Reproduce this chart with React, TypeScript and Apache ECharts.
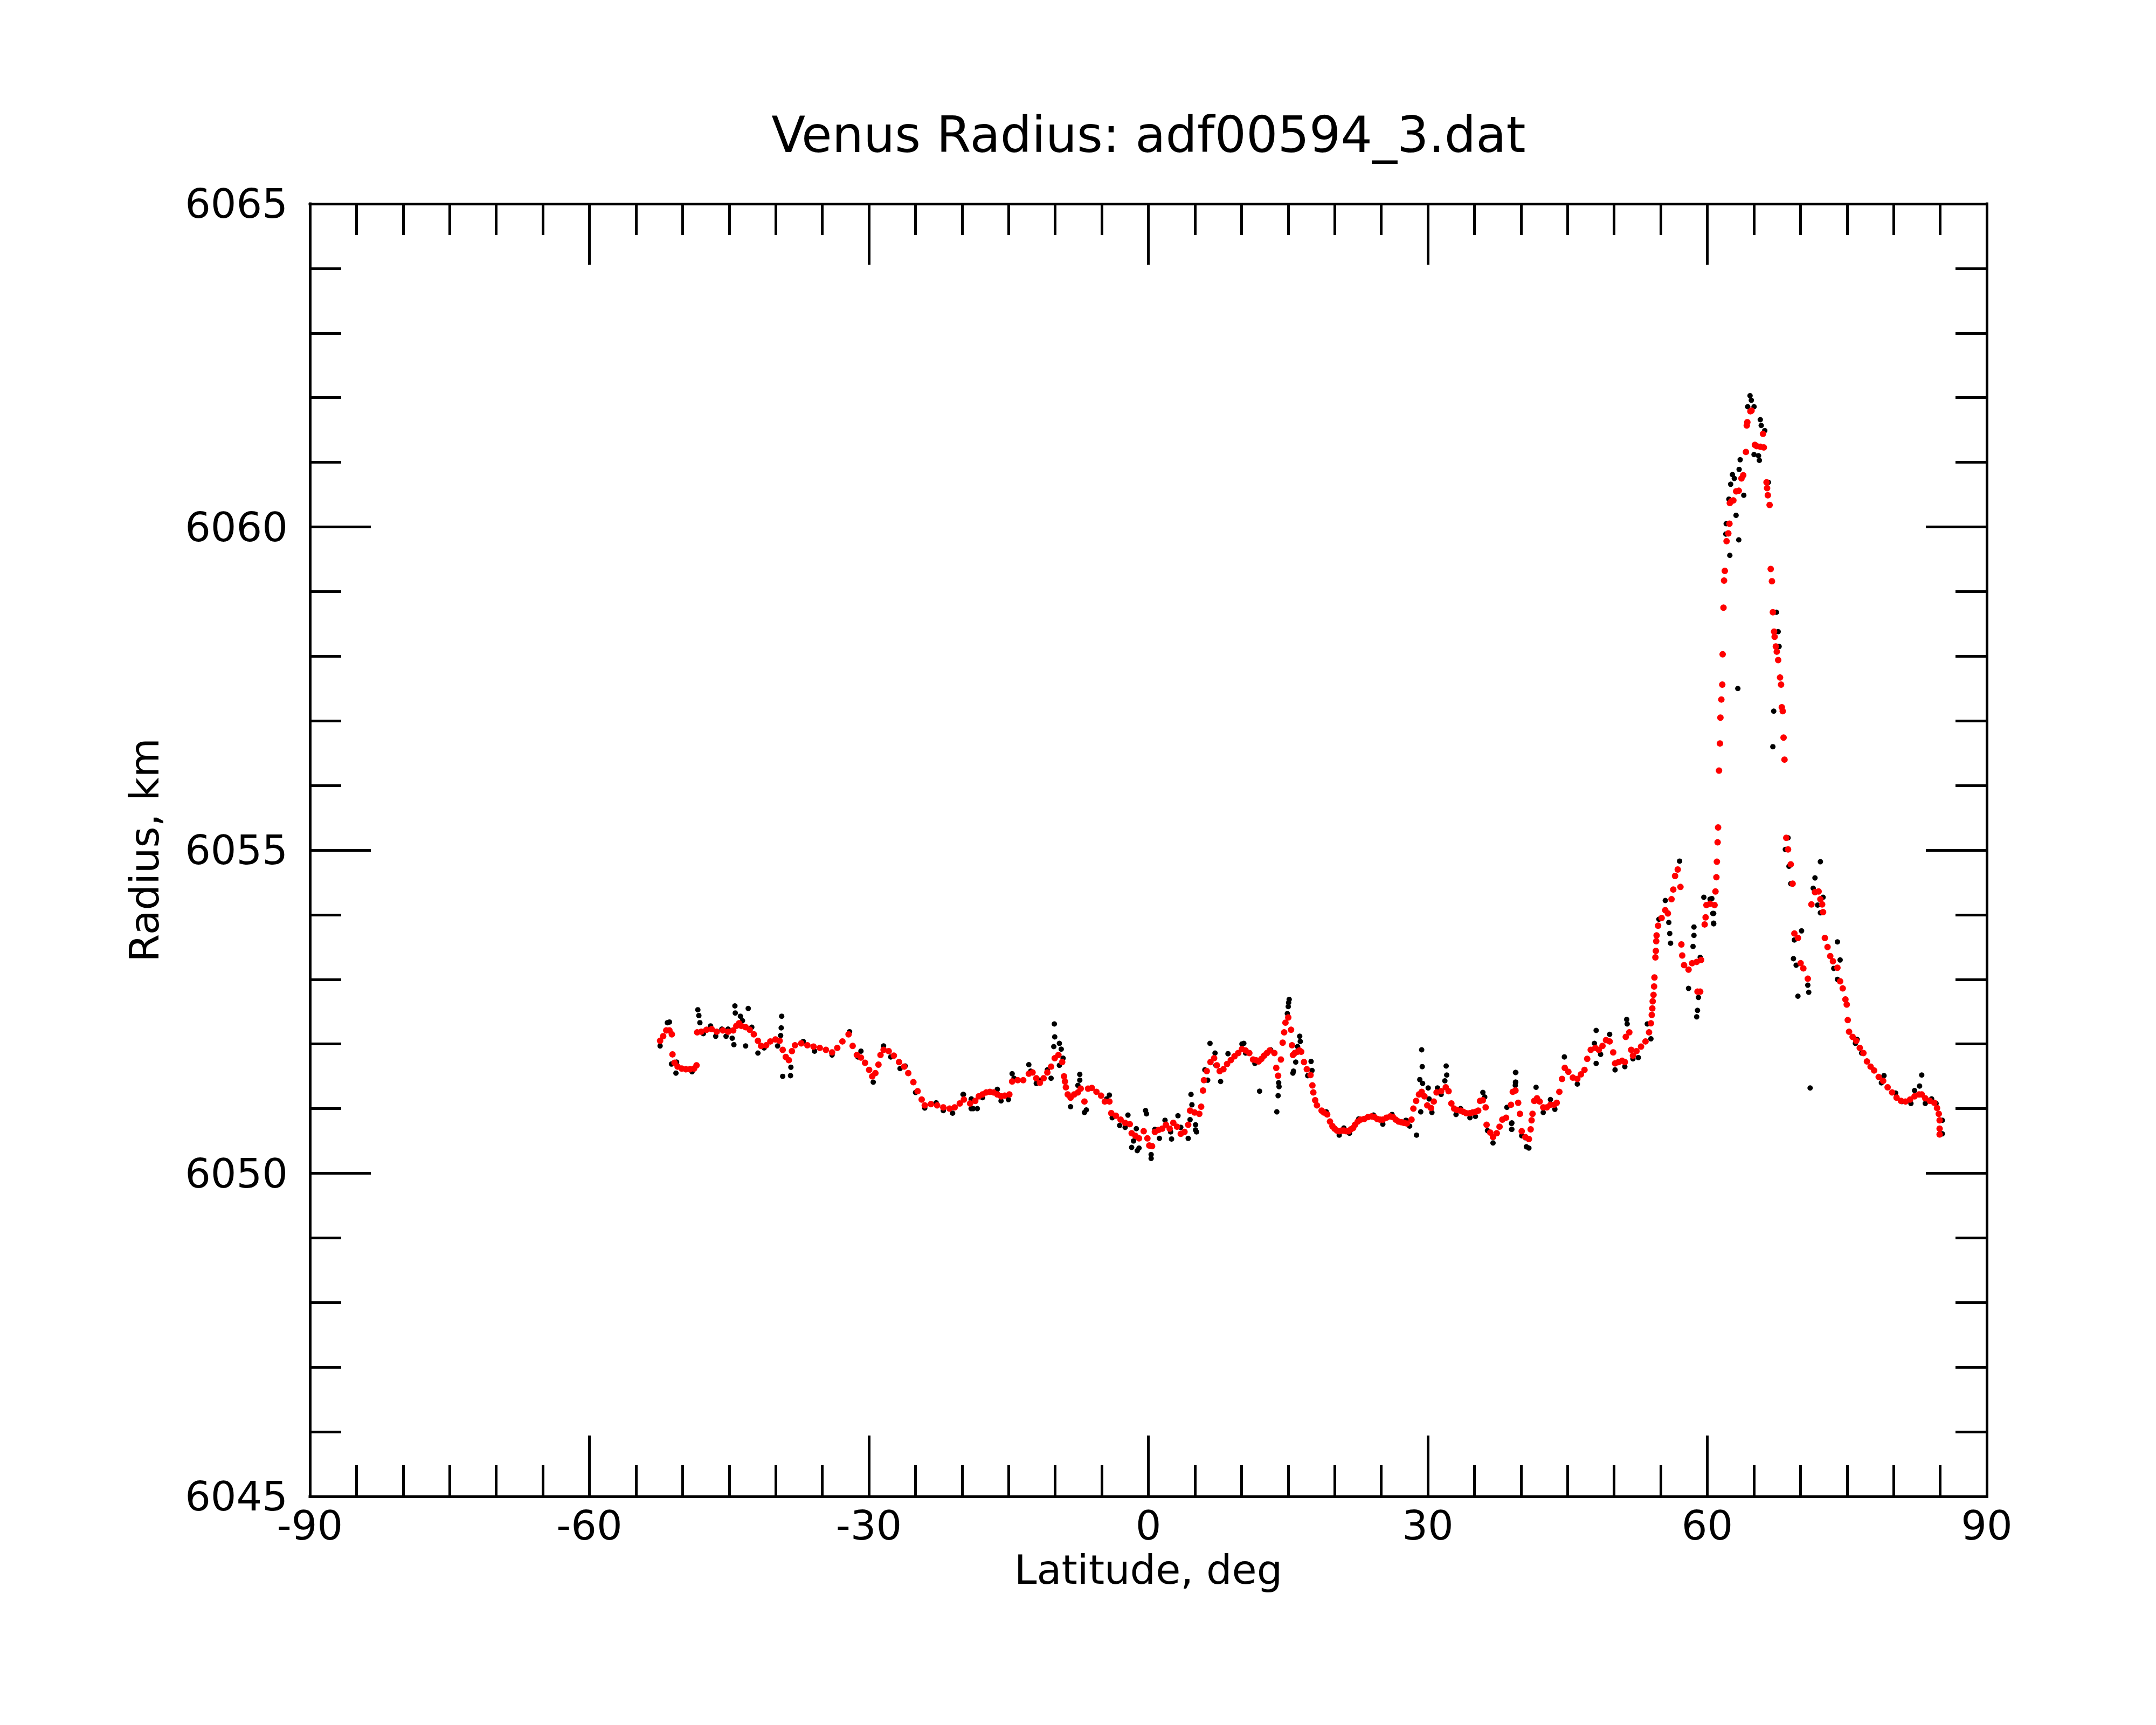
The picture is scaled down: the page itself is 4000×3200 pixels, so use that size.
import React, { useEffect, useRef } from "react";
import * as echarts from "echarts";

const TITLE = "Venus Radius: adf00594_3.dat";
const X_NAME = "Latitude, deg";
const Y_NAME = "Radius, km";
const FONT = "DejaVu Sans";

// Smoothed profile (red), [latitude, radius]
const redSouth = [
  [-52.41, 6052.05], [-52.08, 6052.12], [-51.75, 6052.21], [-51.41, 6052.21], [-51.15, 6052.15],
  [-51.08, 6051.84], [-50.86, 6051.71], [-50.53, 6051.65], [-50.09, 6051.62], [-49.64, 6051.61],
  [-49.2, 6051.61], [-48.76, 6051.62], [-48.5, 6051.67], [-48.43, 6052.18], [-47.99, 6052.19],
  [-47.43, 6052.22], [-46.88, 6052.23], [-46.33, 6052.19], [-45.67, 6052.21], [-45.11, 6052.19],
  [-44.56, 6052.21], [-44.23, 6052.28], [-43.94, 6052.32], [-43.68, 6052.28], [-43.23, 6052.26],
  [-42.79, 6052.22], [-42.35, 6052.15], [-41.91, 6052.05], [-41.57, 6051.97], [-41.02, 6051.98],
  [-40.58, 6052.04], [-40.03, 6052.07], [-39.58, 6052.05], [-39.25, 6051.91], [-38.92, 6051.8],
  [-38.59, 6051.75], [-38.26, 6051.89], [-37.93, 6051.98], [-37.26, 6052.01], [-36.6, 6051.98],
  [-35.94, 6051.96], [-35.27, 6051.94], [-34.61, 6051.91], [-33.95, 6051.87], [-33.39, 6051.94],
  [-32.84, 6052.04], [-32.18, 6052.15], [-31.74, 6051.97], [-31.29, 6051.83], [-30.85, 6051.79],
  [-30.41, 6051.71], [-29.97, 6051.6], [-29.64, 6051.5], [-29.3, 6051.55], [-28.97, 6051.68],
  [-28.75, 6051.83], [-28.42, 6051.91], [-27.87, 6051.89], [-27.32, 6051.82], [-26.76, 6051.72],
  [-26.21, 6051.65], [-25.77, 6051.55], [-25.22, 6051.41], [-24.77, 6051.27], [-24.33, 6051.14],
  [-24.0, 6051.05], [-23.34, 6051.07], [-22.67, 6051.05], [-22.01, 6051.02], [-21.34, 6051.0],
  [-20.79, 6051.02], [-20.24, 6051.08], [-19.8, 6051.14], [-19.13, 6051.08], [-18.58, 6051.12],
];

const redEquator = [
  [-18.2, 6051.19], [-17.8, 6051.22], [-17.41, 6051.25], [-17.01, 6051.26], [-16.61, 6051.25],
  [-16.21, 6051.22], [-15.81, 6051.19], [-15.42, 6051.2], [-14.92, 6051.22], [-14.62, 6051.42],
  [-14.02, 6051.44], [-13.43, 6051.44], [-12.83, 6051.54], [-12.43, 6051.56], [-12.03, 6051.47],
  [-11.64, 6051.4], [-11.24, 6051.47], [-10.84, 6051.56], [-10.44, 6051.65], [-10.05, 6051.78],
  [-9.65, 6051.83], [-9.25, 6051.72], [-9.05, 6051.5], [-8.95, 6051.42], [-8.85, 6051.33],
  [-8.65, 6051.22], [-8.35, 6051.17], [-7.96, 6051.22], [-7.56, 6051.25], [-7.26, 6051.31],
  [-6.86, 6051.11], [-6.47, 6051.31], [-6.07, 6051.32], [-5.57, 6051.26], [-5.07, 6051.2],
  [-4.67, 6051.11], [-4.18, 6051.11], [-3.98, 6050.93], [-3.48, 6050.89], [-2.98, 6050.83],
  [-2.49, 6050.78], [-1.99, 6050.76], [-1.79, 6050.62], [-1.39, 6050.58], [-1.0, 6050.54],
  [-0.5, 6050.65], [-0.1, 6050.54], [0.1, 6050.43], [0.4, 6050.42], [0.7, 6050.64],
  [1.09, 6050.67], [1.49, 6050.69], [1.89, 6050.75], [2.29, 6050.69], [2.68, 6050.78],
  [3.08, 6050.72], [3.48, 6050.61], [3.88, 6050.64], [4.28, 6050.75], [4.48, 6050.97],
  [4.97, 6050.94], [5.47, 6050.92], [5.67, 6051.03], [5.87, 6051.28], [5.97, 6051.44],
  [6.27, 6051.58], [6.67, 6051.72], [7.06, 6051.78], [7.36, 6051.67], [7.66, 6051.58],
  [8.06, 6051.61], [8.45, 6051.69], [8.85, 6051.75], [9.25, 6051.81], [9.65, 6051.86],
  [10.05, 6051.92], [10.44, 6051.9],
];

const redNorth = [
  [10.84, 6051.86], [11.24, 6051.76], [11.54, 6051.75], [11.84, 6051.73], [12.14, 6051.77],
  [12.43, 6051.82], [12.73, 6051.86], [13.03, 6051.9], [13.53, 6051.86], [13.73, 6051.63],
  [13.93, 6051.51], [14.23, 6051.76], [14.42, 6052.02], [14.58, 6052.18], [14.72, 6052.33],
  [15.02, 6052.41], [15.32, 6052.22], [15.42, 6051.98], [15.52, 6051.83], [15.72, 6051.86],
  [16.02, 6051.88], [16.21, 6051.9], [16.41, 6051.88], [16.71, 6051.72], [17.01, 6051.61],
  [17.41, 6051.52], [17.61, 6051.36], [17.71, 6051.25], [17.91, 6051.13], [18.1, 6051.05],
  [18.6, 6050.97], [18.84, 6050.94], [19.2, 6050.91], [19.5, 6050.8], [19.76, 6050.73],
  [19.99, 6050.69], [20.25, 6050.66], [20.49, 6050.65], [20.75, 6050.66], [20.99, 6050.66],
  [21.25, 6050.65], [21.49, 6050.65], [21.74, 6050.68], [21.98, 6050.7], [22.18, 6050.75],
  [22.48, 6050.8], [22.78, 6050.83], [23.18, 6050.84], [23.58, 6050.87], [23.97, 6050.88],
  [24.27, 6050.87], [24.57, 6050.84], [24.87, 6050.83], [25.17, 6050.83], [25.56, 6050.86],
  [25.96, 6050.88], [26.26, 6050.87], [26.56, 6050.83], [26.86, 6050.8], [27.16, 6050.79],
  [27.45, 6050.78], [27.75, 6050.77], [28.25, 6050.83], [28.45, 6051.0], [28.75, 6051.12],
  [29.05, 6051.22], [29.34, 6051.26], [29.64, 6051.19], [29.94, 6051.05], [30.34, 6051.01],
  [30.64, 6051.11], [30.94, 6051.25], [31.43, 6051.27], [31.93, 6051.33], [32.23, 6051.27],
  [32.53, 6051.08], [32.83, 6051.0], [33.12, 6050.98], [33.52, 6050.97], [33.82, 6050.95],
  [34.12, 6050.93], [34.52, 6050.93], [34.81, 6050.94], [35.11, 6050.95], [35.41, 6050.97],
  [35.61, 6051.12], [35.91, 6051.13], [36.21, 6051.02], [36.31, 6050.75], [36.7, 6050.63],
  [37.0, 6050.56], [37.4, 6050.62], [37.7, 6050.72], [38.0, 6050.83], [38.4, 6050.86],
];

const redRise = [
  [38.93, 6051.06], [39.12, 6051.26], [39.41, 6051.28], [39.7, 6051.09], [39.89, 6050.92],
  [40.08, 6050.65], [40.47, 6050.56], [40.85, 6050.53], [41.04, 6050.68], [41.14, 6050.82],
  [41.24, 6050.92], [41.43, 6051.12], [41.72, 6051.16], [42.01, 6051.11], [42.39, 6051.02],
  [42.78, 6051.02], [43.16, 6051.06], [43.55, 6051.06], [43.84, 6051.09], [44.12, 6051.26],
  [44.41, 6051.46], [44.7, 6051.63], [45.09, 6051.57], [45.57, 6051.48], [46.05, 6051.46],
  [46.44, 6051.53], [46.82, 6051.6], [47.11, 6051.77], [47.49, 6051.91], [47.98, 6051.94],
  [48.36, 6051.91], [48.75, 6051.97], [49.13, 6052.06], [49.52, 6052.04], [49.9, 6051.87],
  [50.1, 6051.7], [50.48, 6051.72], [50.86, 6051.74], [51.15, 6051.72], [51.25, 6052.11],
  [51.63, 6052.18], [51.83, 6051.91], [52.02, 6051.82], [52.4, 6051.89], [52.89, 6051.96],
  [53.37, 6052.04], [53.75, 6052.18], [53.95, 6052.32], [54.04, 6052.45], [54.1, 6052.55],
  [54.14, 6052.66], [54.23, 6052.76], [54.29, 6052.89], [54.33, 6053.03], [54.43, 6053.34],
  [54.48, 6053.44], [54.52, 6053.59], [54.56, 6053.68], [54.72, 6053.83], [55.1, 6053.95],
  [55.49, 6054.07], [55.77, 6054.02], [56.16, 6054.24], [56.35, 6054.39], [56.54, 6054.6],
  [56.83, 6054.7], [57.12, 6054.43], [57.22, 6053.54], [57.31, 6053.37], [57.51, 6053.22],
  [57.99, 6053.15], [58.37, 6053.25], [58.86, 6053.27], [59.34, 6053.3], [58.95, 6052.81],
  [59.24, 6052.81], [59.72, 6053.85], [59.82, 6053.96], [59.91, 6054.15], [60.3, 6054.17],
  [60.78, 6054.15], [60.88, 6054.36], [60.98, 6054.58], [61.03, 6054.82], [61.11, 6055.12],
];

const redPeak = [
  [61.16, 6055.35], [61.26, 6056.23], [61.36, 6056.65], [61.41, 6057.05], [61.51, 6057.33],
  [61.61, 6057.56], [61.65, 6058.03], [61.74, 6058.75], [61.8, 6059.17], [61.88, 6059.32],
  [62.07, 6059.78], [62.26, 6059.9], [62.38, 6060.05], [62.42, 6060.37], [62.6, 6060.4],
  [62.8, 6060.41], [63.1, 6060.55], [63.38, 6060.56], [63.67, 6060.75], [63.86, 6060.8],
  [64.15, 6061.16], [64.24, 6061.57], [64.3, 6061.62], [64.63, 6061.79], [64.75, 6061.8],
  [65.11, 6061.27], [65.3, 6061.25], [65.7, 6061.24], [65.98, 6061.44], [66.07, 6061.23],
  [66.36, 6060.69], [66.42, 6060.6], [66.5, 6060.49], [66.69, 6060.34], [66.81, 6059.35],
  [66.94, 6059.16], [67.04, 6058.68], [67.17, 6058.38], [67.23, 6058.3], [67.36, 6058.15],
  [67.46, 6058.07], [67.61, 6057.94], [67.81, 6057.67], [67.92, 6057.56], [68.0, 6057.21],
  [68.1, 6057.15], [68.19, 6056.74], [68.29, 6056.4], [68.48, 6055.19], [68.67, 6055.01],
  [68.96, 6054.78], [69.16, 6054.48],
];

const redTail = [
  [69.35, 6053.71], [69.73, 6053.64], [70.02, 6053.25], [70.31, 6053.17], [70.79, 6053.01],
  [71.18, 6054.16], [71.56, 6054.35], [71.95, 6054.36], [72.14, 6054.24], [72.33, 6054.16],
  [72.43, 6054.04], [72.62, 6053.64], [72.91, 6053.5], [73.2, 6053.36], [73.49, 6053.28],
  [73.97, 6053.18], [74.26, 6052.97], [74.54, 6052.86], [74.83, 6052.69], [74.97, 6052.61],
  [75.08, 6052.37], [75.22, 6052.19], [75.6, 6052.11], [75.99, 6052.05], [76.37, 6051.94],
  [76.76, 6051.86], [77.14, 6051.73], [77.53, 6051.65], [77.91, 6051.59], [78.4, 6051.49],
  [78.88, 6051.43], [79.36, 6051.33], [79.84, 6051.25], [80.32, 6051.17], [80.8, 6051.12],
  [81.28, 6051.11], [81.77, 6051.14], [82.25, 6051.19], [82.73, 6051.22], [83.02, 6051.22],
  [83.4, 6051.16], [83.88, 6051.12], [84.37, 6051.09], [84.66, 6051.01], [84.85, 6050.92],
  [84.94, 6050.82], [84.94, 6050.69], [84.94, 6050.6],
];

// Raw measurements (black), [latitude, radius]
const blackSouth = [
  [-52.41, 6051.97], [-51.63, 6052.33], [-51.41, 6052.34], [-51.19, 6051.69], [-50.64, 6051.72],
  [-50.71, 6051.55], [-48.98, 6051.57], [-48.36, 6052.53], [-48.25, 6052.44], [-48.14, 6052.33],
  [-47.77, 6052.16], [-46.99, 6052.28], [-46.44, 6052.12], [-45.78, 6052.23], [-45.33, 6052.12],
  [-45.11, 6052.23], [-44.67, 6052.09], [-44.49, 6051.99], [-44.38, 6052.59], [-44.34, 6052.48],
  [-43.79, 6052.43], [-43.57, 6052.36], [-42.95, 6052.55], [-43.23, 6051.97], [-42.57, 6052.26],
  [-41.91, 6051.86], [-41.24, 6051.94], [-39.8, 6051.97], [-39.47, 6052.13], [-39.41, 6052.25],
  [-39.36, 6052.43], [-39.25, 6051.5], [-38.41, 6051.51], [-38.37, 6051.64], [-37.04, 6052.04],
  [-35.83, 6051.89], [-33.95, 6051.83], [-32.07, 6052.19], [-30.85, 6051.89], [-31.18, 6051.8],
  [-29.53, 6051.41], [-28.42, 6051.97], [-27.65, 6051.8], [-26.65, 6051.62], [-26.1, 6051.66],
  [-24.99, 6051.25], [-24.0, 6051.01], [-22.78, 6051.09], [-22.01, 6050.97], [-21.01, 6050.93],
  [-19.84, 6051.22], [-19.02, 6051.14], [-19.02, 6051.0], [-18.36, 6051.0],
];

const blackEquator = [
  [-19.89, 6051.22], [-19.0, 6051.15], [-18.8, 6051.0], [-17.8, 6051.17], [-16.21, 6051.3],
  [-15.81, 6051.12], [-15.02, 6051.14], [-14.62, 6051.54], [-14.42, 6051.47], [-12.83, 6051.68],
  [-12.63, 6051.58], [-12.03, 6051.39], [-11.64, 6051.44], [-10.84, 6051.6], [-10.44, 6051.47],
  [-10.15, 6051.96], [-10.05, 6052.11], [-10.09, 6052.31], [-9.55, 6052.01], [-9.35, 6051.92],
  [-9.55, 6051.67], [-9.15, 6051.78], [-8.35, 6051.03], [-7.36, 6051.53], [-7.36, 6051.44],
  [-7.56, 6051.36], [-6.86, 6050.94], [-6.66, 6050.98], [-4.48, 6051.15], [-4.18, 6051.21],
  [-3.88, 6050.86], [-3.08, 6050.74], [-2.49, 6050.71], [-2.19, 6050.9], [-1.59, 6050.5],
  [-1.79, 6050.4], [-1.29, 6050.69], [-1.19, 6050.35], [-1.0, 6050.39], [-0.3, 6050.97],
  [-0.2, 6050.92], [0.3, 6050.29], [0.3, 6050.23], [0.7, 6050.68], [1.19, 6050.54],
  [1.79, 6050.82], [2.39, 6050.64], [2.49, 6050.53], [3.18, 6050.89], [3.48, 6050.71],
  [4.28, 6050.54], [4.48, 6050.83], [4.58, 6051.22], [4.68, 6051.06], [5.07, 6050.75],
  [5.07, 6050.67], [5.17, 6050.64], [6.07, 6051.6], [6.37, 6051.44], [6.62, 6052.01],
  [7.16, 6051.86], [7.26, 6051.67], [7.66, 6051.58], [7.76, 6051.42], [8.55, 6051.85],
  [10.05, 6052.0], [10.44, 6051.86],
];

const blackNorth = [
  [10.25, 6052.01], [11.44, 6051.7], [11.94, 6051.27], [13.13, 6051.91], [13.79, 6050.95],
  [13.93, 6051.2], [14.03, 6051.34], [13.99, 6051.4], [14.92, 6052.47], [15.02, 6052.58],
  [15.12, 6052.69], [15.06, 6052.64], [15.52, 6051.55], [15.58, 6051.58], [15.82, 6051.72],
  [16.25, 6052.12], [16.31, 6052.04], [16.02, 6051.96], [17.47, 6051.73], [17.57, 6051.59],
  [17.11, 6051.51], [19.1, 6050.95], [20.49, 6050.59], [20.99, 6050.7], [21.59, 6050.62],
  [22.58, 6050.84], [24.17, 6050.9], [25.17, 6050.76], [26.16, 6050.91], [27.65, 6050.82],
  [28.05, 6050.73], [28.79, 6050.59], [29.24, 6050.95], [29.14, 6051.45], [29.4, 6051.65],
  [29.34, 6051.91], [29.44, 6051.39], [30.04, 6051.32], [30.14, 6051.15], [30.44, 6050.94],
  [31.04, 6051.32], [31.43, 6051.22], [31.83, 6051.43], [32.03, 6051.52], [31.97, 6051.66],
  [33.03, 6050.91], [33.52, 6051.0], [34.52, 6050.86], [35.11, 6050.88], [35.91, 6051.25],
  [36.11, 6051.18], [36.41, 6050.66], [37.0, 6050.47], [38.49, 6051.02], [38.99, 6050.77],
  [38.99, 6050.68], [39.39, 6051.36], [39.43, 6051.41], [39.45, 6051.56], [40.58, 6050.41],
  [40.48, 6050.55],
];

const blackRise = [
  [39.41, 6051.56], [39.41, 6051.41], [39.02, 6050.78], [39.02, 6050.68], [40.08, 6050.58],
  [40.85, 6050.39], [41.62, 6051.33], [43.16, 6051.14], [42.39, 6050.94], [43.64, 6050.99],
  [44.66, 6051.8], [46.05, 6051.38], [48.07, 6051.7], [48.07, 6052.21], [47.88, 6052.01],
  [49.52, 6052.15], [48.55, 6051.84], [50.1, 6051.6], [51.15, 6051.65], [51.35, 6052.38],
  [51.4, 6052.31], [52.02, 6051.77], [52.6, 6051.79], [53.56, 6052.31], [53.95, 6052.08],
  [54.81, 6053.93], [55.49, 6054.22], [55.87, 6053.88], [55.97, 6053.71], [56.06, 6053.56],
  [57.03, 6054.83], [58.57, 6053.81], [58.57, 6053.68], [58.47, 6053.51], [57.99, 6052.86],
  [59.05, 6052.72], [58.95, 6052.52], [58.86, 6052.42], [59.63, 6054.27], [60.3, 6054.24],
  [60.69, 6054.02], [60.69, 6053.86], [59.24, 6053.34], [60.49, 6054.25], [60.59, 6054.02],
  [60.68, 6053.87],
];

const blackPeak = [
  [64.59, 6062.03], [64.73, 6061.96], [64.34, 6061.86], [65.02, 6061.86], [65.69, 6061.66],
  [65.79, 6061.57], [66.17, 6061.49], [65.02, 6061.12], [65.59, 6061.03], [65.5, 6061.1],
  [63.53, 6061.04], [63.42, 6060.89], [62.7, 6060.81], [62.9, 6060.75], [62.51, 6060.66],
  [63.92, 6060.49], [62.32, 6060.43], [63.09, 6060.18], [62.03, 6060.05], [61.99, 6059.89],
  [63.38, 6059.8], [62.42, 6059.56], [63.28, 6057.5], [67.13, 6057.15], [67.04, 6056.6],
  [66.56, 6060.69], [67.42, 6058.68], [67.61, 6058.38], [67.71, 6058.15], [68.67, 6055.19],
  [68.38, 6055.01], [68.77, 6054.75], [68.96, 6054.48],
];

const blackTail = [
  [72.14, 6054.82], [71.56, 6054.57], [71.37, 6054.41], [72.43, 6054.27], [71.85, 6054.15],
  [72.14, 6054.03], [70.12, 6053.75], [69.35, 6053.61], [73.97, 6053.58], [69.25, 6053.32],
  [69.54, 6053.22], [70.79, 6052.91], [70.89, 6052.8], [69.73, 6052.74], [74.26, 6053.3],
  [73.58, 6053.17], [73.97, 6053.0], [76.09, 6052.07], [75.9, 6052.01], [76.57, 6051.86],
  [71.04, 6051.32], [78.97, 6051.51], [78.69, 6051.4], [80.22, 6051.24], [80.9, 6051.11],
  [81.86, 6051.08], [83.02, 6051.52], [82.79, 6051.35], [82.25, 6051.28], [83.4, 6051.08],
  [84.08, 6051.15], [84.56, 6051.08], [85.23, 6050.82], [85.23, 6050.61],
];

const redData = [...redSouth, ...redEquator, ...redNorth, ...redRise, ...redPeak, ...redTail];
const blackData = [...blackSouth, ...blackEquator, ...blackNorth, ...blackRise, ...blackPeak, ...blackTail];

const X_MIN = -90, X_MAX = 90, X_STEP = 30;
const Y_MIN = 6045, Y_MAX = 6065, Y_STEP = 5;

const plainNumber = (v: number) => String(v);

function axisCommon(showLabels: boolean) {
  return {
    axisLine: { show: true, onZero: false, lineStyle: { color: "#000", width: 5, cap: "square" } },
    axisTick: { show: true, inside: true, length: 113, lineStyle: { color: "#000", width: 5 } },
    splitLine: { show: false },
    minorSplitLine: { show: false },
    axisLabel: {
      show: showLabels,
      fontSize: 75,
      color: "#000",
      fontFamily: FONT,
      formatter: plainNumber,
    },
  };
}

export default function App() {
  const ref = useRef<HTMLDivElement>(null);
  useEffect(() => {
    document.body.style.margin = "0";
    const chart = echarts.init(ref.current!, null, { renderer: "svg" });
    const textStyle = { fontSize: 75, color: "#000", fontFamily: FONT };
    const xBase = { type: "value", min: X_MIN, max: X_MAX, interval: X_STEP };
    const yBase = { type: "value", min: Y_MIN, max: Y_MAX, interval: Y_STEP };
    chart.setOption({
      animation: false,
      backgroundColor: "#fff",
      textStyle: { fontFamily: FONT },
      title: {
        text: TITLE,
        left: 2131,
        top: 204,
        padding: 0,
        textAlign: "center",
        textVerticalAlign: "top",
        textStyle: { fontSize: 92, fontWeight: "normal", color: "#000", fontFamily: FONT },
      },
      grid: {
        left: 575,
        right: 314,
        top: 378,
        bottom: 424,
        containLabel: false,
        outerBoundsMode: "none",
      },
      xAxis: [
        {
          ...xBase,
          ...axisCommon(true),
          position: "bottom",
          minorTick: { show: true, splitNumber: 6, length: 58, lineStyle: { color: "#000", width: 5 } },
          axisLabel: { ...axisCommon(true).axisLabel, margin: 16 },
          name: X_NAME,
          nameLocation: "middle",
          nameGap: 98,
          nameTextStyle: textStyle,
        },
        {
          ...xBase,
          ...axisCommon(false),
          position: "top",
          minorTick: { show: true, splitNumber: 6, length: 58, lineStyle: { color: "#000", width: 5 } },
        },
      ],
      yAxis: [
        {
          ...yBase,
          ...axisCommon(true),
          position: "left",
          minorTick: { show: true, splitNumber: 5, length: 58, lineStyle: { color: "#000", width: 5 } },
          axisLabel: { ...axisCommon(true).axisLabel, margin: 41 },
          name: Y_NAME,
          nameLocation: "middle",
          nameGap: 270,
          nameRotate: 90,
          nameTextStyle: textStyle,
        },
        {
          ...yBase,
          ...axisCommon(false),
          position: "right",
          minorTick: { show: true, splitNumber: 5, length: 58, lineStyle: { color: "#000", width: 5 } },
        },
      ],
      series: [
        {
          type: "scatter",
          name: "raw",
          data: blackData,
          symbol: "circle",
          symbolSize: 10,
          itemStyle: { color: "#000", opacity: 1 },
          xAxisIndex: 0,
          yAxisIndex: 0,
          silent: true,
        },
        {
          type: "scatter",
          name: "smoothed",
          data: redData,
          symbol: "circle",
          symbolSize: 12,
          itemStyle: { color: "#ff0000", opacity: 1 },
          xAxisIndex: 0,
          yAxisIndex: 0,
          silent: true,
        },
      ],
    });
    return () => chart.dispose();
  }, []);
  return <div ref={ref} style={{ width: 4000, height: 3200 }} />;
}
